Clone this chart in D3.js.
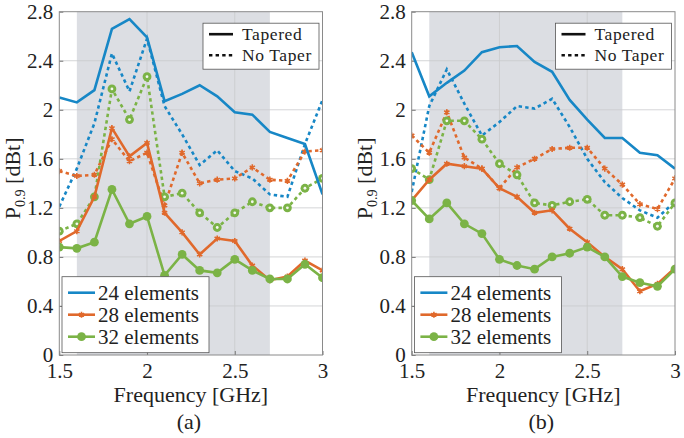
<!DOCTYPE html>
<html>
<head>
<meta charset="utf-8">
<script src="https://cdn.jsdelivr.net/npm/d3@7"></script>
<style>
  body { margin: 0; background: #fff; }
</style>
</head>
<body>
<svg id="chart"></svg>
<script>
const freq = [1.5, 1.6, 1.7, 1.8, 1.9, 2.0, 2.1, 2.2, 2.3, 2.4, 2.5, 2.6, 2.7, 2.8, 2.9, 3.0];

// panel (a)
const a24Tapered = [2.10, 2.06, 2.16, 2.66, 2.74, 2.59, 2.07, 2.13, 2.20, 2.11, 1.98, 1.96, 1.82, 1.77, 1.72, 1.31];
const a24NoTaper = [1.21, 1.52, 1.89, 2.46, 2.15, 2.58, 2.03, 1.80, 1.55, 1.67, 1.50, 1.44, 1.31, 1.29, 1.72, 2.08];
const a28Tapered = [0.93, 1.01, 1.29, 1.85, 1.62, 1.73, 1.16, 1.00, 0.82, 0.95, 0.93, 0.73, 0.61, 0.64, 0.77, 0.69];
const a28NoTaper = [1.50, 1.46, 1.47, 1.76, 1.58, 1.65, 1.22, 1.65, 1.40, 1.43, 1.44, 1.53, 1.43, 1.42, 1.66, 1.67];
const a32Tapered = [0.88, 0.87, 0.92, 1.35, 1.07, 1.13, 0.65, 0.82, 0.69, 0.67, 0.78, 0.69, 0.62, 0.62, 0.74, 0.63];
const a32NoTaper = [1.01, 1.07, 1.29, 2.17, 1.92, 2.27, 1.29, 1.32, 1.16, 1.04, 1.16, 1.25, 1.20, 1.20, 1.36, 1.44];

// panel (b)
const b24Tapered = [2.47, 2.11, 2.22, 2.32, 2.47, 2.51, 2.52, 2.39, 2.31, 2.08, 1.92, 1.77, 1.77, 1.65, 1.63, 1.52];
const b24NoTaper = [1.33, 2.03, 2.33, 2.05, 1.79, 1.90, 2.03, 2.01, 2.09, 1.86, 1.60, 1.41, 1.28, 1.18, 1.12, 1.25];
const b28Tapered = [1.26, 1.43, 1.56, 1.54, 1.52, 1.36, 1.29, 1.16, 1.18, 1.03, 0.92, 0.80, 0.70, 0.52, 0.58, 0.71];
const b28NoTaper = [1.79, 1.65, 1.98, 1.61, 1.52, 1.36, 1.53, 1.60, 1.68, 1.69, 1.69, 1.52, 1.39, 1.23, 1.19, 1.44];
const b32Tapered = [1.26, 1.11, 1.24, 1.07, 0.99, 0.78, 0.73, 0.70, 0.80, 0.83, 0.88, 0.80, 0.64, 0.59, 0.56, 0.70];
const b32NoTaper = [1.52, 1.43, 1.91, 1.91, 1.76, 1.56, 1.47, 1.24, 1.22, 1.25, 1.27, 1.14, 1.14, 1.12, 1.05, 1.24];

const elementLabels = ["24 elements", "28 elements", "32 elements"];
const styleLabels = ["Tapered", "No Taper"];
const xTicks = [1.5, 2, 2.5, 3];
const yTicks = [0, 0.4, 0.8, 1.2, 1.6, 2, 2.4, 2.8];
const shadeBand = [1.6, 2.7];
const panelLabels = ["(a)", "(b)"];

const colors = ["#1787c6", "#e0692c", "#7bb346"];
const markers = ["none", "asterisk", "circle"];
const serif = '"Liberation Serif"';

const width = 684, height = 438;
const svg = d3.select("#chart").attr("width", width).attr("height", height);

const plotTop = 11.7, plotBottom = 355;
const panels = [
  { left: 59.3, right: 322.5, label: panelLabels[0],
    series: [[a24Tapered, a24NoTaper], [a28Tapered, a28NoTaper], [a32Tapered, a32NoTaper]] },
  { left: 411.7, right: 675, label: panelLabels[1],
    series: [[b24Tapered, b24NoTaper], [b28Tapered, b28NoTaper], [b32Tapered, b32NoTaper]] }
];

function addText(g, size) {
  return g.append("text").style("font-family", serif).style("font-size", size + "px").attr("fill", "#222");
}

function drawMarker(g, kind, cx, cy, color, dashed) {
  if (kind === "circle") {
    g.append("circle").attr("cx", cx).attr("cy", cy).attr("r", 4.4).attr("fill", color);
    if (dashed) g.append("circle").attr("cx", cx).attr("cy", cy).attr("r", 1.4).attr("fill", "#f4f7ef");
  } else if (kind === "asterisk") {
    g.append("path")
      .attr("d", d3.symbol(d3.symbolAsterisk, 26)())
      .attr("transform", `translate(${cx},${cy})`)
      .attr("stroke", color).attr("stroke-width", 1.6).attr("fill", "none");
  }
}

panels.forEach((p, pi) => {
  const x = d3.scaleLinear().domain([1.5, 3]).range([p.left, p.right]);
  const y = d3.scaleLinear().domain([0, 2.8]).range([plotBottom, plotTop]);
  const g = svg.append("g");

  // shaded band
  g.append("rect")
    .attr("x", x(shadeBand[0])).attr("y", plotTop)
    .attr("width", x(shadeBand[1]) - x(shadeBand[0])).attr("height", plotBottom - plotTop)
    .attr("fill", "#dcdee3");

  // grid
  g.append("g").selectAll("line").data(yTicks.slice(1, -1)).join("line")
    .attr("x1", p.left).attr("x2", p.right)
    .attr("y1", d => y(d)).attr("y2", d => y(d))
    .attr("stroke", "#c9cacd").attr("stroke-width", 0.8);
  g.append("g").selectAll("line").data(xTicks.slice(1, -1)).join("line")
    .attr("y1", plotTop).attr("y2", plotBottom)
    .attr("x1", d => x(d)).attr("x2", d => x(d))
    .attr("stroke", "#c9cacd").attr("stroke-width", 0.8);

  // axes
  const yAxis = d3.axisLeft(y).tickValues(yTicks).tickSize(-4).tickPadding(6).tickFormat(d3.format("~g"));
  const xAxis = d3.axisBottom(x).tickValues(xTicks).tickSize(-4).tickFormat(d3.format("~g"));
  const ya = g.append("g").attr("transform", `translate(${p.left},0)`).call(yAxis);
  const xa = g.append("g").attr("transform", `translate(0,${plotBottom})`).call(xAxis);
  [ya, xa].forEach(a => {
    a.attr("font-family", serif).attr("font-size", 21);
    a.select(".domain").remove();
    a.selectAll("line").attr("stroke", "#777");
    a.selectAll("text").style("font-family", serif).style("font-size", "21px").attr("fill", "#222");
  });
  ya.selectAll("text").attr("dy", "0.33em");
  xa.selectAll("text").attr("y", 23).attr("dy", 0);

  const clipId = "clip" + pi;
  svg.append("clipPath").attr("id", clipId).append("rect")
    .attr("x", p.left).attr("y", plotTop).attr("width", p.right - p.left).attr("height", plotBottom - plotTop);

  const plot = g.append("g").attr("clip-path", `url(#${clipId})`);
  const line = d3.line().x((d, i) => x(freq[i])).y(d => y(d));

  // no taper first, tapered on top
  [1, 0].forEach(s => {
    p.series.forEach((pair, ci) => {
      const vals = pair[s];
      plot.append("path").datum(vals)
        .attr("d", line)
        .attr("fill", "none")
        .attr("stroke", colors[ci])
        .attr("stroke-width", 2.6)
        .attr("stroke-dasharray", s === 1 ? "3.4,3.2" : null);
      vals.forEach((v, i) => drawMarker(plot, markers[ci], x(freq[i]), y(v), colors[ci], s === 1));
    });
  });

  // box
  g.append("rect")
    .attr("x", p.left).attr("y", plotTop)
    .attr("width", p.right - p.left).attr("height", plotBottom - plotTop)
    .attr("fill", "none").attr("stroke", "#8a8a8a").attr("stroke-width", 1);

  // style legend
  const sl = g.append("g").attr("transform", `translate(${p.right - 119.5},${plotTop + 11.5})`);
  sl.append("rect").attr("width", 116).attr("height", 46)
    .attr("fill", "#fff").attr("stroke", "#555").attr("stroke-width", 0.8);
  styleLabels.forEach((lab, i) => {
    const yy = 11 + i * 21;
    sl.append("line").attr("x1", 6).attr("x2", 30).attr("y1", yy).attr("y2", yy)
      .attr("stroke", "#111").attr("stroke-width", 2.6)
      .attr("stroke-dasharray", i === 1 ? "3.4,3.2" : null);
    addText(sl, 17.5).attr("x", 39).attr("y", yy).attr("dy", "0.33em")
      .style("letter-spacing", "0.6px").text(lab);
  });

  // element legend
  const el = g.append("g").attr("transform", `translate(${p.left + 2.7},${plotBottom - 78.3})`);
  el.append("rect").attr("width", 147).attr("height", 76)
    .attr("fill", "#fff").attr("stroke", "#555").attr("stroke-width", 0.8);
  elementLabels.forEach((lab, i) => {
    const yy = 16 + i * 22;
    el.append("line").attr("x1", 6).attr("x2", 33).attr("y1", yy).attr("y2", yy)
      .attr("stroke", colors[i]).attr("stroke-width", 2.6);
    drawMarker(el, markers[i], 19.5, yy, colors[i], false);
    addText(el, 21).attr("x", 36).attr("y", yy).attr("dy", "0.33em").text(lab);
  });

  // labels
  const cx = (p.left + p.right) / 2;
  addText(g, 22).attr("x", cx).attr("y", 402).attr("text-anchor", "middle").text("Frequency [GHz]");
  addText(g, 22).attr("x", cx - 2).attr("y", 429).attr("text-anchor", "middle").text(p.label);

  const yl = addText(g, 22)
    .attr("transform", `translate(${p.left - 39.5},${(plotTop + plotBottom) / 2 - 5}) rotate(-90)`)
    .attr("text-anchor", "middle");
  yl.append("tspan").text("P");
  yl.append("tspan").attr("dy", "5").style("font-size", "14px").text("0.9");
  yl.append("tspan").attr("dy", "-5").text(" [dBt]");
});
</script>
</body>
</html>
